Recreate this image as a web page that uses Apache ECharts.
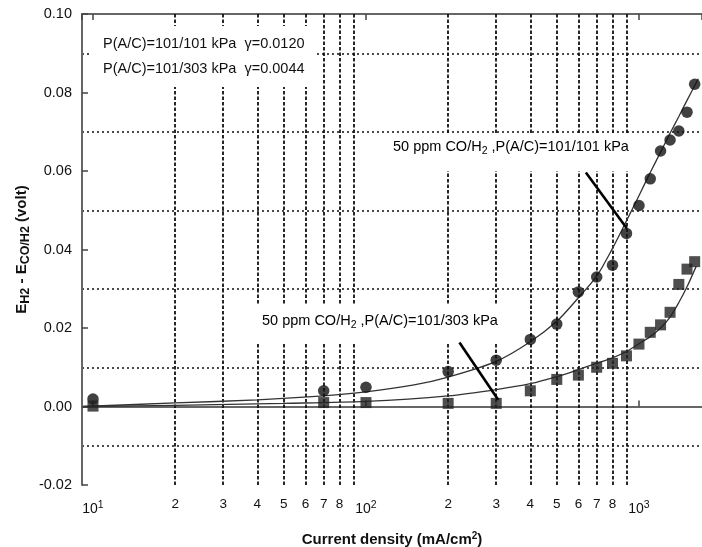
<!DOCTYPE html>
<html>
<head>
<meta charset="utf-8">
<script src="https://cdn.jsdelivr.net/npm/echarts@6/dist/echarts.min.js"></script>
<style>
  html, body { margin: 0; padding: 0; background: #fff; }
  #chart { width: 702px; height: 547px; }
</style>
</head>
<body>
<div id="chart"></div>
<script>
// Measured overpotential, 50 ppm CO/H2, P(A/C)=101/101 kPa (circles)
const currentA   = [10, 70, 100, 200, 300, 400, 500, 600, 700, 800, 900, 1000, 1100, 1200, 1300, 1400, 1500, 1600];
const potentialA = [0.0019, 0.0040, 0.0049, 0.0089, 0.0118, 0.0171, 0.0210, 0.0292, 0.0330, 0.0360, 0.0441, 0.0512, 0.0580, 0.0651, 0.0679, 0.0702, 0.0750, 0.0821];

// Measured overpotential, 50 ppm CO/H2, P(A/C)=101/303 kPa (squares)
const currentB   = [10, 70, 100, 200, 300, 400, 500, 600, 700, 800, 900, 1000, 1100, 1200, 1300, 1400, 1500, 1600];
const potentialB = [0.0001, 0.0010, 0.0010, 0.0008, 0.0008, 0.0040, 0.0069, 0.0080, 0.0100, 0.0110, 0.0129, 0.0159, 0.0189, 0.0208, 0.0240, 0.0311, 0.0350, 0.0369];

// Model curves (gamma = 0.0120 and gamma = 0.0044)
const fitCurrentA   = [9.2, 20, 40, 70, 100, 150, 200, 300, 400, 500, 600, 700, 800, 900, 1000, 1100, 1200, 1300, 1400, 1500, 1650];
const fitPotentialA = [0.0000, 0.0009, 0.0017, 0.0027, 0.0037, 0.0055, 0.0075, 0.0115, 0.0165, 0.0217, 0.0277, 0.0332, 0.0403, 0.0473, 0.0537, 0.0596, 0.0648, 0.0696, 0.0739, 0.0780, 0.0835];
const fitCurrentB   = [9.2, 20, 50, 100, 200, 300, 400, 500, 600, 700, 800, 900, 1000, 1100, 1200, 1300, 1400, 1500, 1620];
const fitPotentialB = [0.0000, 0.0003, 0.0008, 0.0013, 0.0027, 0.0043, 0.0058, 0.0076, 0.0094, 0.0110, 0.0124, 0.0140, 0.0160, 0.0178, 0.0200, 0.0228, 0.0265, 0.0305, 0.0357];

// Log-axis intermediate grid values and their labels
const minorGridValues   = [20, 30, 40, 50, 60, 70, 80, 90, 200, 300, 400, 500, 600, 700, 800, 900];
const minorLabelValues  = [20, 30, 40, 50, 60, 70, 80, 200, 300, 400, 500, 600, 700, 800];
const minorLabelTexts   = ['2', '3', '4', '5', '6', '7', '8', '2', '3', '4', '5', '6', '7', '8'];

const X_MIN = 9.114, X_MAX = 1702;
const Y_MIN = -0.02, Y_MAX = 0.10;

const FONT = '"Liberation Sans", Arial, Helvetica, sans-serif';
const INK = '#111';

const chart = echarts.init(document.getElementById('chart'), null, { renderer: 'canvas' });

const pairs = (xs, ys) => xs.map((x, i) => [x, ys[i]]);

const verticalGrid = minorGridValues.map(v => [
  { coord: [v, Y_MIN] },
  { coord: [v, Y_MAX] }
]);

const minorLabels = minorLabelValues.map((v, i) => ({
  coord: [v, Y_MIN],
  value: minorLabelTexts[i]
}));

const decadeLabel = v => {
  const e = Math.log10(v);
  if (Math.abs(e - Math.round(e)) < 1e-6) return '{b|10}{p|' + Math.round(e) + '}';
  return '';
};

const labelRich = {
  a: { fontFamily: FONT, fontSize: 14.5, color: INK },
  s: { fontFamily: FONT, fontSize: 10.5, color: INK, padding: [9, 0, 0, 0] }
};

const option = {
  animation: false,
  backgroundColor: '#fff',
  grid: { left: 82, top: 14, right: 0, bottom: 62, outerBoundsMode: 'none', containLabel: false },
  xAxis: [
    {
      type: 'log', logBase: 10, min: X_MIN, max: X_MAX, position: 'bottom',
      axisLine: { show: true, lineStyle: { color: '#666', width: 2 } },
      axisTick: { show: true, inside: true, length: 6, lineStyle: { color: '#444', width: 1.5 } },
      splitLine: { show: false },
      axisLabel: {
        formatter: decadeLabel, margin: 15, showMinLabel: false, showMaxLabel: false,
        rich: {
          b: { fontFamily: FONT, fontSize: 14, color: INK },
          p: { fontFamily: FONT, fontSize: 10.5, color: INK, padding: [0, 0, 8, 0] }
        }
      },
      name: '{t|Current density (mA/cm}{p|2}{t|)}',
      nameLocation: 'middle', nameGap: 46,
      nameTextStyle: {
        rich: {
          t: { fontFamily: FONT, fontSize: 15, fontWeight: 'bold', color: INK },
          p: { fontFamily: FONT, fontSize: 10, fontWeight: 'bold', color: INK, padding: [0, 0, 8, 0] }
        }
      }
    },
    {
      type: 'log', logBase: 10, min: X_MIN, max: X_MAX, position: 'top',
      axisLine: { show: true, lineStyle: { color: '#666', width: 2 } },
      axisTick: { show: true, inside: true, length: 6, lineStyle: { color: '#444', width: 1.5 } },
      axisLabel: { show: false },
      splitLine: { show: false }
    }
  ],
  yAxis: {
    type: 'value', min: Y_MIN, max: Y_MAX, interval: 0.02,
    axisLine: { show: true, lineStyle: { color: '#666', width: 2 } },
    axisTick: { show: true, inside: true, length: 6, lineStyle: { color: '#444', width: 1.5 } },
    axisLabel: {
      formatter: v => v.toFixed(2), margin: 10,
      fontFamily: FONT, fontSize: 14.5, color: INK
    },
    splitLine: { show: false },
    minorTick: { show: false, splitNumber: 2 },
    minorSplitLine: { show: true, lineStyle: { color: '#111', width: 1.5, type: [2, 3] } },
    name: '{m|E}{s|H2}{m| - E}{s|CO/H2}{m| (volt)}',
    nameLocation: 'middle', nameRotate: 90, nameGap: 50, nameMoveOverlap: false,
    nameTextStyle: {
      rich: {
        m: { fontFamily: FONT, fontSize: 15, fontWeight: 'bold', color: INK },
        s: { fontFamily: FONT, fontSize: 12.5, fontWeight: 'bold', color: INK, padding: [7, 0, 0, 0] }
      }
    }
  },
  graphic: [
    { type: 'rect', z: 3, silent: true, shape: { x: 92, y: 26, width: 224, height: 61 }, style: { fill: '#fff' } },
    { type: 'text', z: 4, silent: true, left: 103, top: 36,
      style: { text: 'P(A/C)=101/101 kPa  γ=0.0120', font: '14.5px ' + FONT, fill: INK } },
    { type: 'text', z: 4, silent: true, left: 103, top: 61,
      style: { text: 'P(A/C)=101/303 kPa  γ=0.0044', font: '14.5px ' + FONT, fill: INK } },

    { type: 'rect', z: 3, silent: true, shape: { x: 380, y: 134, width: 265, height: 37 }, style: { fill: '#fff' } },
    { type: 'text', z: 4, silent: true, left: 393, top: 139,
      style: { text: '{a|50 ppm CO/H}{s|2}{a| ,P(A/C)=101/101 kPa}', rich: labelRich } },

    { type: 'rect', z: 3, silent: true, shape: { x: 240, y: 304, width: 272, height: 39 }, style: { fill: '#fff' } },
    { type: 'text', z: 4, silent: true, left: 262, top: 313,
      style: { text: '{a|50 ppm CO/H}{s|2}{a| ,P(A/C)=101/303 kPa}', rich: labelRich } }
  ],
  series: [
    {
      // dashed vertical grid at 2..9 of each decade, plus their tick labels
      name: 'grid', type: 'line', data: [], z: 1, silent: true,
      markLine: {
        z: 1, silent: true, symbol: ['none', 'none'], animation: false,
        label: { show: false },
        lineStyle: { color: '#111', width: 1.8, type: [3.5, 2] },
        data: verticalGrid
      },
      markPoint: {
        z: 1, silent: true, symbol: 'circle', symbolSize: 0, animation: false,
        label: {
          show: true, position: 'bottom', distance: 12,
          fontFamily: FONT, fontSize: 13.5, color: INK,
          formatter: p => p.value
        },
        data: minorLabels
      }
    },
    {
      name: 'fit 101/101', type: 'line', smooth: 0.3, showSymbol: false, silent: true, z: 5,
      lineStyle: { color: '#333', width: 1.3 },
      data: pairs(fitCurrentA, fitPotentialA)
    },
    {
      name: 'fit 101/303', type: 'line', smooth: 0.3, showSymbol: false, silent: true, z: 5,
      lineStyle: { color: '#333', width: 1.3 },
      data: pairs(fitCurrentB, fitPotentialB)
    },
    {
      name: '101/101 kPa', type: 'scatter', symbol: 'circle', symbolSize: 11.5, z: 6,
      itemStyle: { color: '#111' },
      data: pairs(currentA, potentialA)
    },
    {
      name: '101/303 kPa', type: 'scatter', symbol: 'rect', symbolSize: 11, z: 6,
      itemStyle: { color: '#222' },
      data: pairs(currentB, potentialB)
    },
    {
      // pointer arrows from the two annotations
      name: 'arrows', type: 'line', data: [], z: 7, silent: true,
      markLine: {
        z: 7, silent: true, symbol: ['none', 'arrow'], symbolSize: [0, 10], animation: false,
        label: { show: false },
        lineStyle: { color: '#000', width: 2.6, type: 'solid' },
        data: [
          [{ coord: [639, 0.0596] }, { coord: [902, 0.0454] }],
          [{ coord: [220, 0.0163] }, { coord: [305, 0.0017] }]
        ]
      }
    }
  ]
};

chart.setOption(option);
</script>
</body>
</html>
